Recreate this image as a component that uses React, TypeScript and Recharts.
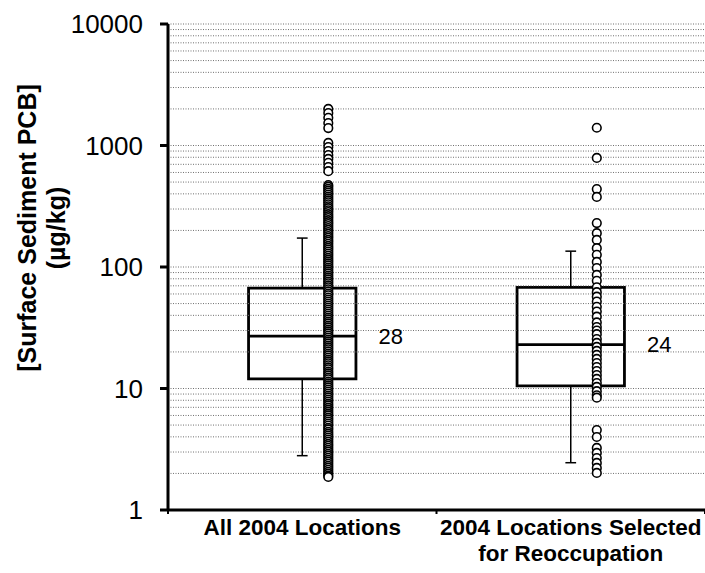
import React from "react";
import {
  ComposedChart,
  XAxis,
  YAxis,
  Scatter,
  ReferenceArea,
  ReferenceLine,
  ReferenceDot,
} from "recharts";

// two groups, box + individual samples drawn next to each box
const CATEGORIES = [["All 2004 Locations"], ["2004 Locations Selected", "for Reoccupation"]];
const CATEGORY_X = [0.5, 1.5];

const Y_TICKS = [1, 10, 100, 1000, 10000];
const GRID_VALUES = [
  2, 3, 4, 5, 6, 7, 8, 9, 10,
  20, 30, 40, 50, 60, 70, 80, 90, 100,
  200, 300, 400, 500, 600, 700, 800, 900, 1000,
  2000, 3000, 4000, 5000, 6000, 7000, 8000, 9000, 10000,
];

const WHISKER_LOW = [2.8, 2.45];
const Q1 = [12, 10.5];
const MEDIAN = [27, 23];
const Q3 = [67, 68];
const WHISKER_HIGH = [173, 135];
const MEDIAN_LABELS = ["28", "24"];

// surface sediment PCB, µg/kg
const ALL_2004 = [
  2000, 1850, 1690, 1530, 1390, 1050, 970, 900, 835, 775, 720, 665, 615,
  473, 458, 440, 425, 410, 395, 380, 367, 353, 341, 328, 316, 305, 293, 283,
  272, 262, 253, 243, 234, 226, 217, 209, 202, 194, 187, 180, 174, 167, 161,
  155, 149, 144, 139, 134, 129, 124, 119, 115, 111, 107, 103, 99, 95.5, 92,
  88.5, 85, 82, 79, 76, 73.5, 70.5, 68, 65.5, 63, 60.5, 58.5, 56, 54, 52, 50,
  48.2, 46.4, 44.7, 43, 41.4, 39.9, 38.4, 37, 35.6, 34.3, 33, 31.8, 30.6,
  29.5, 28.4, 27.3, 26.3, 25.3, 24.4, 23.5, 22.6, 21.8, 21, 20.2, 19.4, 18.7,
  18, 17.3, 16.7, 16.1, 15.5, 14.9, 14.4, 13.8, 13.3, 12.8, 12.3, 11.9, 11.4,
  11, 10.6, 10.2, 9.8, 9.45, 9.1, 8.75, 8.45, 8.1, 7.8, 7.5, 7.25, 6.95, 6.7,
  6.45, 6.2, 6.0, 5.75, 5.55, 5.35, 5.15, 4.95, 4.75, 4.6, 4.4, 4.25, 4.1,
  3.95, 3.8, 3.65, 3.5, 3.38, 3.25, 3.13, 3.02, 2.9, 2.8, 2.69, 2.59, 2.5,
  2.4, 2.31, 2.23, 2.14, 2.06, 1.99, 1.92, 1.87,
];
const SELECTED = [
  1400, 790, 438, 377, 230, 190, 167, 143, 126, 110, 98, 86, 77, 68, 62, 57,
  52, 47, 43, 39, 35, 32, 30, 28, 25.5, 23.7, 22, 20.4, 18.9, 17.5, 16.2, 15,
  13.9, 12.9, 12, 11.1, 10.3, 9.5, 8.8, 8.4, 4.55, 3.99, 3.24, 2.95, 2.68,
  2.44, 2.22, 2.02,
];

const SAMPLE_OFFSET = 0.097;
const BOX_HALF = 0.2;
const CAP_HALF = 0.02;
const LABEL_OFFSET = 0.33;

const FONT = "Arial, 'Liberation Sans', sans-serif";

const sampleData = (values: number[], i: number) =>
  values.map((v) => ({ x: CATEGORY_X[i] + SAMPLE_OFFSET, y: v }));

const Ring = (props: any) => (
  <circle cx={props.cx} cy={props.cy} r={4.3} fill="#fff" stroke="#000" strokeWidth={1.6} />
);

const XTick = (props: any) => {
  const { x, y, payload } = props;
  const v = payload.value;
  if (Number.isInteger(v)) {
    return <line x1={x} x2={x} y1={y} y2={y + 4} stroke="#000" strokeWidth={2} />;
  }
  const lines = CATEGORIES[Math.floor(v)];
  return (
    <text x={x} y={y + 25} textAnchor="middle" fontFamily={FONT} fontWeight="bold" fontSize={22.5} fill="#000">
      {lines.map((l, i) => (
        <tspan key={i} x={x} dy={i === 0 ? 0 : 26}>
          {l}
        </tspan>
      ))}
    </text>
  );
};

const YTitle = () => (
  <g fontFamily={FONT} fontWeight="bold" fontSize={25} fill="#000">
    <text transform="translate(27,228) rotate(-90)" textAnchor="middle" dominantBaseline="central">
      [Surface Sediment PCB]
    </text>
    <text transform="translate(56,228) rotate(-90)" textAnchor="middle" dominantBaseline="central">
      (µg/kg)
    </text>
  </g>
);

export default function App() {
  return (
    <div style={{ position: "absolute", left: 0, top: 0, background: "#fff" }}>
      <ComposedChart width={705} height={573} margin={{ top: 24, right: 0, bottom: 3, left: 0 }}>
        <XAxis
          type="number"
          dataKey="x"
          domain={[0, 2]}
          ticks={[0, 0.5, 1, 1.5, 2]}
          interval={0}
          tick={<XTick />}
          tickLine={false}
          tickSize={0}
          tickMargin={0}
          height={60}
          axisLine={{ stroke: "#000", strokeWidth: 3 }}
        />
        <YAxis
          type="number"
          dataKey="y"
          scale="log"
          domain={[1, 10000]}
          ticks={Y_TICKS}
          interval={0}
          allowDataOverflow
          width={168}
          tickSize={8}
          tickMargin={17}
          axisLine={{ stroke: "#000", strokeWidth: 3 }}
          tickLine={{ stroke: "#000", strokeWidth: 3 }}
          tick={{ fontFamily: FONT, fontSize: 26, fill: "#000" }}
          label={<YTitle />}
        />

        {GRID_VALUES.map((g) => (
          <ReferenceLine key={`g${g}`} y={g} stroke="#707070" strokeWidth={1} strokeDasharray="1 1.5" />
        ))}

        {CATEGORY_X.map((cx, i) => (
          <ReferenceLine
            key={`wh${i}`}
            segment={[{ x: cx, y: Q3[i] }, { x: cx, y: WHISKER_HIGH[i] }]}
            stroke="#000"
            strokeWidth={1.5}
          />
        ))}
        {CATEGORY_X.map((cx, i) => (
          <ReferenceLine
            key={`wl${i}`}
            segment={[{ x: cx, y: Q1[i] }, { x: cx, y: WHISKER_LOW[i] }]}
            stroke="#000"
            strokeWidth={1.5}
          />
        ))}
        {CATEGORY_X.map((cx, i) => (
          <ReferenceLine
            key={`ch${i}`}
            segment={[{ x: cx - CAP_HALF, y: WHISKER_HIGH[i] }, { x: cx + CAP_HALF, y: WHISKER_HIGH[i] }]}
            stroke="#000"
            strokeWidth={1.5}
          />
        ))}
        {CATEGORY_X.map((cx, i) => (
          <ReferenceLine
            key={`cl${i}`}
            segment={[{ x: cx - CAP_HALF, y: WHISKER_LOW[i] }, { x: cx + CAP_HALF, y: WHISKER_LOW[i] }]}
            stroke="#000"
            strokeWidth={1.5}
          />
        ))}
        {CATEGORY_X.map((cx, i) => (
          <ReferenceArea
            key={`box${i}`}
            x1={cx - BOX_HALF}
            x2={cx + BOX_HALF}
            y1={Q1[i]}
            y2={Q3[i]}
            fill="#fff"
            fillOpacity={1}
            stroke="#000"
            strokeWidth={2.8}
          />
        ))}
        {CATEGORY_X.map((cx, i) => (
          <ReferenceLine
            key={`med${i}`}
            segment={[{ x: cx - BOX_HALF, y: MEDIAN[i] }, { x: cx + BOX_HALF, y: MEDIAN[i] }]}
            stroke="#000"
            strokeWidth={2.8}
          />
        ))}
        {CATEGORY_X.map((cx, i) => (
          <ReferenceDot
            key={`lab${i}`}
            x={cx + LABEL_OFFSET}
            y={MEDIAN[i]}
            r={0}
            fill="none"
            stroke="none"
            label={{ value: MEDIAN_LABELS[i], position: "center", fontFamily: FONT, fontSize: 22, fill: "#000" }}
          />
        ))}

        <Scatter data={sampleData(ALL_2004, 0)} shape={<Ring />} isAnimationActive={false} />
        <Scatter data={sampleData(SELECTED, 1)} shape={<Ring />} isAnimationActive={false} />
      </ComposedChart>
    </div>
  );
}
